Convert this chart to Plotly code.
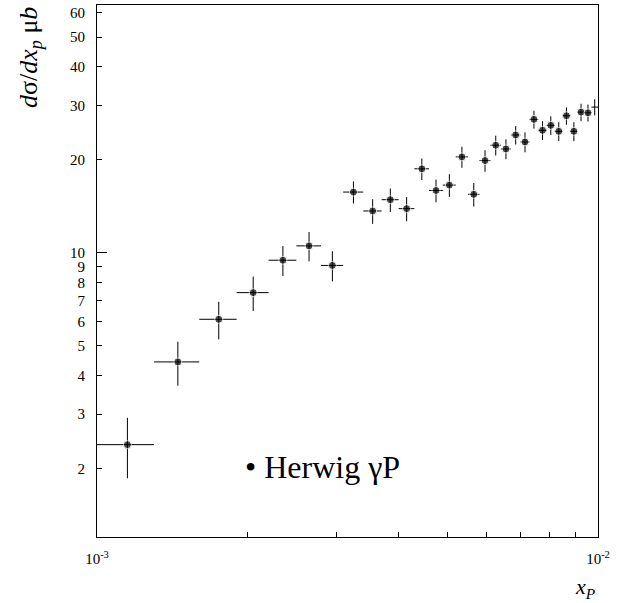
import plotly.graph_objects as go

# ---- data ----
x_center = [1.15e-3, 1.45e-3, 1.75e-3, 2.05e-3, 2.35e-3, 2.65e-3, 2.95e-3, 3.25e-3,
            3.55e-3, 3.85e-3, 4.15e-3, 4.45e-3, 4.75e-3, 5.05e-3, 5.35e-3, 5.65e-3,
            5.95e-3, 6.25e-3, 6.55e-3, 6.85e-3, 7.15e-3, 7.45e-3, 7.75e-3, 8.05e-3,
            8.35e-3, 8.65e-3, 8.95e-3, 9.25e-3, 9.55e-3, 9.85e-3]
x_half_width = [0.15e-3] * 30
y_val = [2.39, 4.43, 6.09, 7.43, 9.46, 10.53, 9.10, 15.73, 13.66, 14.86,
         13.90, 18.71, 15.92, 16.57, 20.45, 15.47, 19.90, 22.31, 21.70, 24.08,
         22.86, 27.06, 24.94, 25.88, 24.75, 27.79, 24.75, 28.56, 28.41, 29.65]
y_err = [0.53, 0.72, 0.85, 0.95, 1.05, 1.15, 1.02, 1.30, 1.25, 1.30,
         1.25, 1.50, 1.35, 1.40, 1.60, 1.35, 1.60, 1.65, 1.60, 1.65,
         1.70, 1.80, 1.75, 1.80, 1.75, 1.80, 1.75, 1.85, 1.80, 1.80]
y_tick_vals = [2, 3, 4, 5, 6, 7, 8, 9, 10, 20, 30, 40, 50, 60]
y_tick_text = ["2", "3", "4", "5", "6", "7", "8", "9", "10", "20", "30", "40", "50", "60"]
x_tick_vals = [1e-3, 2e-3, 3e-3, 4e-3, 5e-3, 6e-3, 7e-3, 8e-3, 9e-3, 1e-2]
x_tick_text = ["10<sup>-3</sup>", "", "", "", "", "", "", "", "", "10<sup>-2</sup>"]
legend_label = "Herwig γP"

FONT = '"Liberation Serif", "Times New Roman", Times, serif'

marker_sizes = [8] * (len(y_val) - 1) + [0]

fig = go.Figure()
fig.add_trace(go.Scatter(
    x=x_center, y=y_val, mode="markers",
    marker=dict(color="black", size=marker_sizes),
    error_x=dict(type="data", array=x_half_width, color="black", thickness=1, width=0),
    error_y=dict(type="data", array=y_err, color="black", thickness=1, width=0),
    showlegend=False,
))

fig.update_layout(
    width=618, height=603,
    margin=dict(l=97, r=20, t=5, b=66, autoexpand=False),
    paper_bgcolor="white", plot_bgcolor="white",
    font=dict(family=FONT, color="black", size=15),
    xaxis=dict(
        type="log", range=[-3, -2], automargin=False,
        tickmode="array", tickvals=x_tick_vals, ticktext=x_tick_text,
        ticks="inside", ticklen=5, tickwidth=1, tickcolor="black",
        showline=True, linecolor="black", linewidth=1, mirror=True,
        showgrid=False, zeroline=False,
        tickfont=dict(family=FONT, size=15),
        ticklabelstandoff=8,
    ),
    yaxis=dict(
        type="log", range=[0.0792, 1.8028], automargin=False,
        tickmode="array", tickvals=y_tick_vals, ticktext=y_tick_text,
        ticks="inside", ticklen=5, tickwidth=1, tickcolor="black",
        showline=True, linecolor="black", linewidth=1, mirror=True,
        showgrid=False, zeroline=False,
        tickfont=dict(family=FONT, size=15),
        ticklabelstandoff=8,
        minor=dict(tickmode="array", tickvals=[10], ticks="inside", ticklen=10,
                   tickcolor="black", tickwidth=1, showgrid=False),
    ),
    annotations=[
        dict(text="<i>d</i>σ/<i>dx<sub>p</sub></i> μ<i>b</i>", textangle=-90,
             xref="paper", yref="paper", x=-0.1347, y=1.0,
             xanchor="center", yanchor="top", showarrow=False,
             font=dict(family=FONT, size=26)),
        dict(text="<i>x<sub>P</sub></i>",
             xref="paper", yref="paper", x=1.0, y=0.0, yshift=-51,
             xanchor="right", yanchor="middle", showarrow=False,
             font=dict(family=FONT, size=22)),
        dict(text="• " + legend_label,
             xref="paper", yref="paper", x=0.292, y=0.132,
             xanchor="left", yanchor="middle", showarrow=False,
             font=dict(family=FONT, size=32)),
    ],
)

fig.write_html("out.html",
               config={"displayModeBar": False},
               post_script="document.body.style.margin='0px';document.body.style.overflow='hidden';")
